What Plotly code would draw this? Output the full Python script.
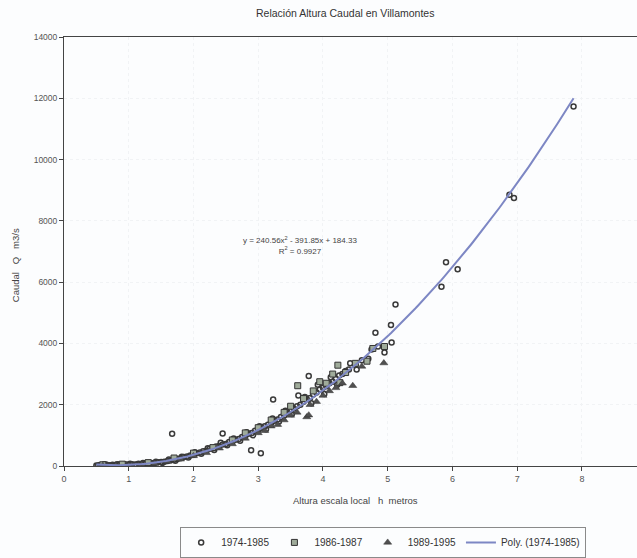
import numpy as np
import plotly.graph_objects as go

# ---- data ----
c_x = [0.50, 0.55, 0.60, 0.65, 0.70, 0.75, 0.80, 0.85, 0.90, 0.95, 1.00, 1.05, 1.10, 1.15, 1.20, 1.25,
       1.30, 1.35, 1.40, 1.45, 1.50, 1.55, 1.60, 1.65, 1.67, 1.70, 1.75, 1.80, 1.85, 1.90, 1.95, 2.00,
       2.05, 2.10, 2.15, 2.20, 2.25, 2.30, 2.35, 2.40, 2.45, 2.45, 2.50, 2.55, 2.60, 2.65, 2.70, 2.75,
       2.80, 2.85, 2.89, 2.90, 2.95, 3.00, 3.04, 3.05, 3.10, 3.15, 3.20, 3.23, 3.25, 3.30, 3.35, 3.40,
       3.45, 3.50, 3.55, 3.60, 3.62, 3.65, 3.70, 3.75, 3.78, 3.80, 3.85, 3.90, 3.95, 4.00, 4.05, 4.10,
       4.15, 4.20, 4.25, 4.30, 4.35, 4.40, 4.50, 4.60, 4.70, 4.75, 4.81, 4.85, 4.95, 5.05, 5.06, 5.12,
       5.83, 5.90, 6.08, 6.88, 6.95, 7.87,
       0.52, 0.62, 0.72, 0.82, 0.92, 1.02, 1.12, 1.22, 1.32, 1.42, 1.52, 1.62, 1.72, 1.82, 1.92, 2.02,
       2.12, 2.22, 2.32, 2.42, 2.52, 2.62, 2.72, 2.82, 2.92, 3.02, 3.12, 3.22, 3.32, 3.42, 3.52, 3.72,
       3.82, 3.92, 4.02, 4.12, 4.22, 4.42, 4.52]
c_y = [20, 35, 30, 45, 25, 40, 30, 50, 35, 55, 40, 60, 50, 70, 60, 85,
       75, 100, 95, 120, 130, 140, 160, 185, 1050, 200, 230, 250, 290, 310, 340, 370,
       420, 440, 480, 500, 560, 580, 640, 650, 1060, 700, 720, 780, 800, 860, 880, 950,
       980, 1050, 510, 1080, 1150, 1180, 415, 1250, 1300, 1350, 1400, 2170, 1480, 1520, 1600, 1650,
       1750, 1800, 1880, 1950, 2300, 2000, 2100, 2180, 2940, 2220, 2330, 2400, 2500, 2550, 2600, 2700,
       2750, 2850, 2950, 3000, 3100, 3150, 3300, 3450, 3500, 3800, 4350, 3900, 3700, 4600, 4030, 5270,
       5850, 6650, 6420, 8850, 8750, 11730,
       10, 55, 15, 60, 20, 75, 40, 95, 55, 140, 100, 210, 170, 300, 280, 450,
       400, 580, 520, 760, 680, 900, 820, 1100, 1000, 1300, 1200, 1550, 1450, 1800, 1700, 2250,
       2050, 2650, 2350, 2900, 2650, 3350, 3150]

s_x = [0.60, 0.90, 1.30, 1.70, 2.00, 2.30, 2.60, 2.80, 3.00, 3.20, 3.40, 3.50, 3.61, 3.70, 3.85,
       3.95, 4.05, 4.15, 4.23, 4.26, 4.35, 4.50, 4.68, 4.77, 4.95]
s_y = [40, 60, 110, 260, 420, 600, 850, 1080, 1250, 1500, 1750, 1950, 2620, 2200, 2450,
       2750, 2700, 3000, 3290, 2720, 3050, 3350, 3420, 3835, 3900]

t_x = [0.60, 0.80, 1.00, 1.20, 1.40, 1.60, 1.80, 2.00, 2.20, 2.40, 2.60, 2.80, 3.00, 3.10, 3.20,
       3.30, 3.40, 3.50, 3.60, 3.75, 3.78, 3.80, 3.90, 4.00, 4.10, 4.20, 4.30, 4.46, 4.60, 4.94]
t_y = [10, 15, 20, 45, 80, 150, 220, 330, 430, 580, 720, 900, 1080, 1150, 1300,
       1350, 1500, 1650, 1750, 1600, 1660, 2000, 2100, 2300, 2450, 2550, 2700, 2620, 3250, 3360]

# polynomial trendline coefficients shown on the chart (a2, a1, a0)
poly_coef = [240.56, -391.85, 184.33]
trend_x = np.linspace(0.5, 7.87, 200)
trend_y = np.polyval(poly_coef, trend_x)

x_ticks = [0, 1, 2, 3, 4, 5, 6, 7, 8]
y_ticks = [0, 2000, 4000, 6000, 8000, 10000, 12000, 14000]

FONT = "Liberation Sans, Arial, sans-serif"

fig = go.Figure()
fig.add_trace(go.Scatter(
    x=c_x, y=c_y, mode="markers", name="1974-1985",
    marker=dict(symbol="circle-open", size=5, color="#3a3a3a", line=dict(width=1.5, color="#3a3a3a"))))
fig.add_trace(go.Scatter(
    x=s_x, y=s_y, mode="markers", name="1986-1987",
    marker=dict(symbol="square", size=6, color="#9fab9a", line=dict(width=1, color="#333333"))))
fig.add_trace(go.Scatter(
    x=t_x, y=t_y, mode="markers", name="1989-1995",
    marker=dict(symbol="triangle-up", size=7, color="#505050", line=dict(width=0.5, color="#333333"))))
fig.add_trace(go.Scatter(
    x=trend_x, y=trend_y, mode="lines", name="Poly. (1974-1985)",
    line=dict(color="#7d87c4", width=2)))

fig.update_layout(
    width=637, height=558,
    margin=dict(l=64, r=0, t=37, b=83),
    paper_bgcolor="#fcfdfe", plot_bgcolor="#fcfdfe",
    font=dict(family=FONT, size=9, color="#333333"),
    showlegend=True,
    legend=dict(orientation="h", x=0.557, xanchor="center", y=-0.142, yanchor="top",
                bordercolor="#8a8a8a", borderwidth=1, bgcolor="#fcfdfe",
                font=dict(family=FONT, size=10, color="#333333"),
                itemwidth=30, tracegroupgap=0),
    xaxis=dict(range=[0, 8.85], tickvals=x_ticks, showgrid=True, gridcolor="#f1f3f5", griddash="dot",
               zeroline=False, showline=True, linecolor="#444444", linewidth=1, mirror=True,
               ticks="outside", ticklen=4, tickcolor="#444444", tickfont=dict(size=9, color="#555555")),
    yaxis=dict(range=[0, 14000], tickvals=y_ticks, tickformat="d", showgrid=True, gridcolor="#f1f3f5",
               griddash="dot", zeroline=False, showline=True, linecolor="#444444", linewidth=1,
               ticks="outside", ticklen=4, tickcolor="#444444", tickfont=dict(size=8.5, color="#555555")),
    annotations=[
        dict(text="Relación Altura Caudal en Villamontes", xref="paper", yref="paper",
             x=(345 - 64) / 573, y=1 + 25 / 438, showarrow=False, xanchor="center", yanchor="middle",
             font=dict(size=10.5, color="#333333")),
        dict(text="Altura escala local\u00a0\u00a0\u00a0h\u00a0\u00a0metros", xref="paper", yref="paper",
             x=(355 - 64) / 573, y=-(510 - 475) / 438, showarrow=False, xanchor="center", yanchor="middle",
             font=dict(size=9.5, color="#444444")),
        dict(text="Caudal\u00a0\u00a0\u00a0Q\u00a0\u00a0\u00a0m3/s", xref="paper", yref="paper",
             x=-(64 - 15) / 573, y=(475 - 270) / 438, showarrow=False, textangle=-90,
             xanchor="center", yanchor="middle", font=dict(size=9.5, color="#444444")),
        dict(text="y = 240.56x<sup>2</sup> - 391.85x + 184.33<br>R<sup>2</sup> = 0.9927", xref="paper", yref="paper",
             x=(300 - 64) / 573, y=(475 - 250) / 438, showarrow=False, xanchor="center", yanchor="middle",
             align="center", font=dict(size=8, color="#444444")),
    ],
)

fig.write_html("out.html")
